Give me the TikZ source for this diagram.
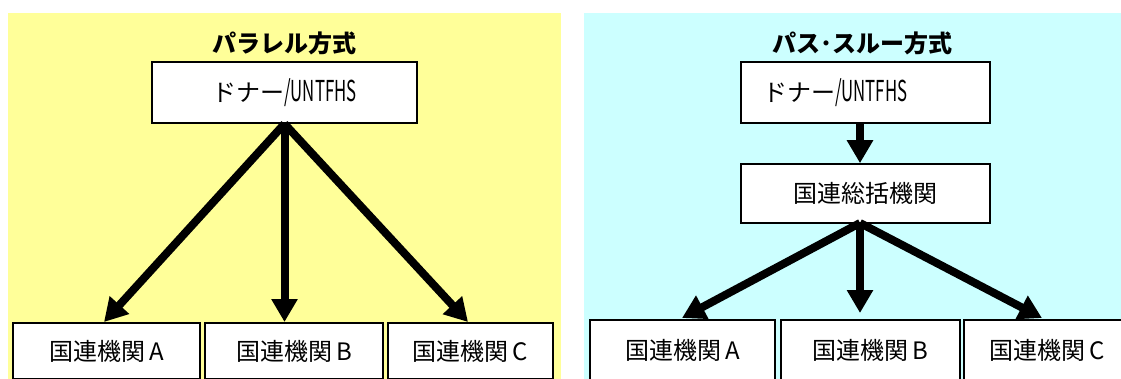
\documentclass[tikz,border=0pt]{standalone}
\usepackage{fontspec}
\usepackage{graphicx}
\usetikzlibrary{arrows.meta}
\newfontfamily\cjk{Noto Sans CJK JP}
\definecolor{paneyellow}{HTML}{FFFF99}
\definecolor{panecyan}{HTML}{CCFFFF}
\newcommand\halfw[1]{\scalebox{0.7}[1.2]{#1}}
\begin{document}
\begin{tikzpicture}[x=1pt,y=-1pt,
  box/.style={draw=black, line width=1.6pt, fill=white, inner sep=0pt,
    font=\cjk\fontsize{24}{28}\selectfont},
  flow/.style={line width=8pt, -{Triangle[length=23pt,width=25pt]}},
  ttl/.style={font=\cjk\bfseries\fontsize{24}{28}\selectfont}]
\useasboundingbox (0,0) rectangle (1121,378);
\clip (0,0) rectangle (1121,378);
\fill[white] (0,0) rectangle (1121,378);
% panels
\fill[paneyellow] (8,13) rectangle (561,390);
\fill[panecyan] (584,13) rectangle (1130,390);
% ---- left: parallel
\node[ttl] (titleL) at (284,43) {パラレル方式};
\node[box, minimum width=265pt, minimum height=61pt] (donorL) at (284.5,92.5) {ドナー\halfw{/UNTFHS}};
\node[box, minimum width=187pt, minimum height=56pt] (boxLA) at (106.5,351) {国連機関\,A};
\node[box, minimum width=178pt, minimum height=56pt] (boxLB) at (294,351) {国連機関\,B};
\node[box, minimum width=165pt, minimum height=56pt] (boxLC) at (470.5,351) {国連機関\,C};
\coordinate (tLA) at (104,322);
\coordinate (tLB) at (284.5,322);
\coordinate (tLC) at (468,322);
\draw[flow] (donorL.south) -- (tLA);
\draw[flow] (donorL.south) -- (tLB);
\draw[flow] (donorL.south) -- (tLC);
% ---- right: pass-through
\node[ttl] (titleR) at (862,43) {パス･スルー方式};
\node[box, minimum width=249pt, minimum height=61pt, text width=205pt, align=left] (donorR) at (865.5,92.5) {ドナー\halfw{/UNTFHS}};
\node[box, minimum width=249pt, minimum height=59pt] (mid) at (865.5,193.5) {国連総括機関};
\node[box, minimum width=185pt, minimum height=60pt] (boxRA) at (682.5,350) {国連機関\,A};
\node[box, minimum width=179pt, minimum height=60pt] (boxRB) at (870.5,350) {国連機関\,B};
\node[box, minimum width=166pt, minimum height=60pt] (boxRC) at (1047,350) {国連機関\,C};
\coordinate (rTop) at (860,123);
\coordinate (rFan) at (860,223);
\coordinate (tRB) at (860,313);
\coordinate (tRC) at (1042,318);
\coordinate (tRA) at (682,318);
\draw[flow] (rTop) -- (rTop |- mid.north);
\draw[flow] (rFan) -- (tRA);
\draw[flow] (rFan) -- (tRB);
\draw[flow] (rFan) -- (tRC);
\end{tikzpicture}
\end{document}
